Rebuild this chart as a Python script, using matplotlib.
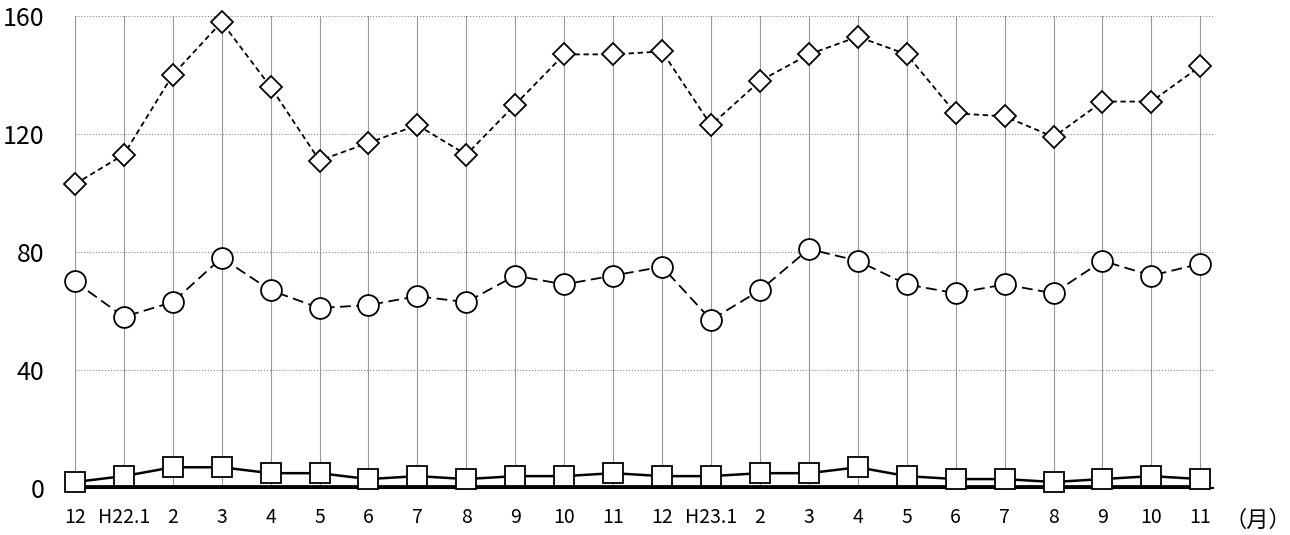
import matplotlib
matplotlib.use("Agg")
import matplotlib.pyplot as plt

plt.rcParams["font.family"] = ["Noto Sans CJK JP", "DejaVu Sans"]

labels = ["12", "H22.1", "2", "3", "4", "5", "6", "7", "8", "9", "10", "11",
          "12", "H23.1", "2", "3", "4", "5", "6", "7", "8", "9", "10", "11"]
diamonds = [103, 113, 140, 158, 136, 111, 117, 123, 113, 130, 147, 147,
            148, 123, 138, 147, 153, 147, 127, 126, 119, 131, 131, 143]
circles = [70, 58, 63, 78, 67, 61, 62, 65, 63, 72, 69, 72,
           75, 57, 67, 81, 77, 69, 66, 69, 66, 77, 72, 76]
squares = [2, 4, 7, 7, 5, 5, 3, 4, 3, 4, 4, 5,
           4, 4, 5, 5, 7, 4, 3, 3, 2, 3, 4, 3]
zeros = [0.5] * 24

x = list(range(len(labels)))

fig = plt.figure(figsize=(12.9, 5.35), dpi=100)
ax = fig.add_axes([0.058, 0.088, 0.882, 0.882])

ax.plot(x, diamonds, color="black", linestyle=(0, (3, 2)), linewidth=1.3, clip_on=False,
        marker="D", markersize=11, markerfacecolor="white", markeredgewidth=1.3, zorder=3)
ax.plot(x, circles, color="black", linestyle=(0, (6, 3)), linewidth=1.3, clip_on=False,
        marker="o", markersize=15, markerfacecolor="white", markeredgewidth=1.3, zorder=3)
ax.plot(x, zeros, color="black", linewidth=2, zorder=2, clip_on=False)
ax.plot(x, squares, color="black", linewidth=1.8, clip_on=False,
        marker="s", markersize=14, markerfacecolor="white", markeredgewidth=1.3, zorder=3)

ax.set_xlim(0, 23.25)
ax.set_ylim(0, 160)
ax.set_yticks([0, 40, 80, 120, 160])
ax.set_xticks(x)
ax.set_xticklabels(labels)
ax.tick_params(axis="x", length=0, labelsize=14, pad=14)
ax.tick_params(axis="y", length=0, labelsize=18, pad=22)

ax.grid(axis="x", color="#999999", linewidth=0.8, zorder=0)
ax.grid(axis="y", color="#888888", linestyle=":", linewidth=0.8, zorder=0)
for side in ["top", "right"]:
    ax.spines[side].set_visible(False)
ax.spines["left"].set_color("#999999")
ax.spines["bottom"].set_linewidth(1.5)

fig.text(0.975, 0.028, "（月）", fontsize=16, ha="center", va="center")

fig.savefig("out.png")
